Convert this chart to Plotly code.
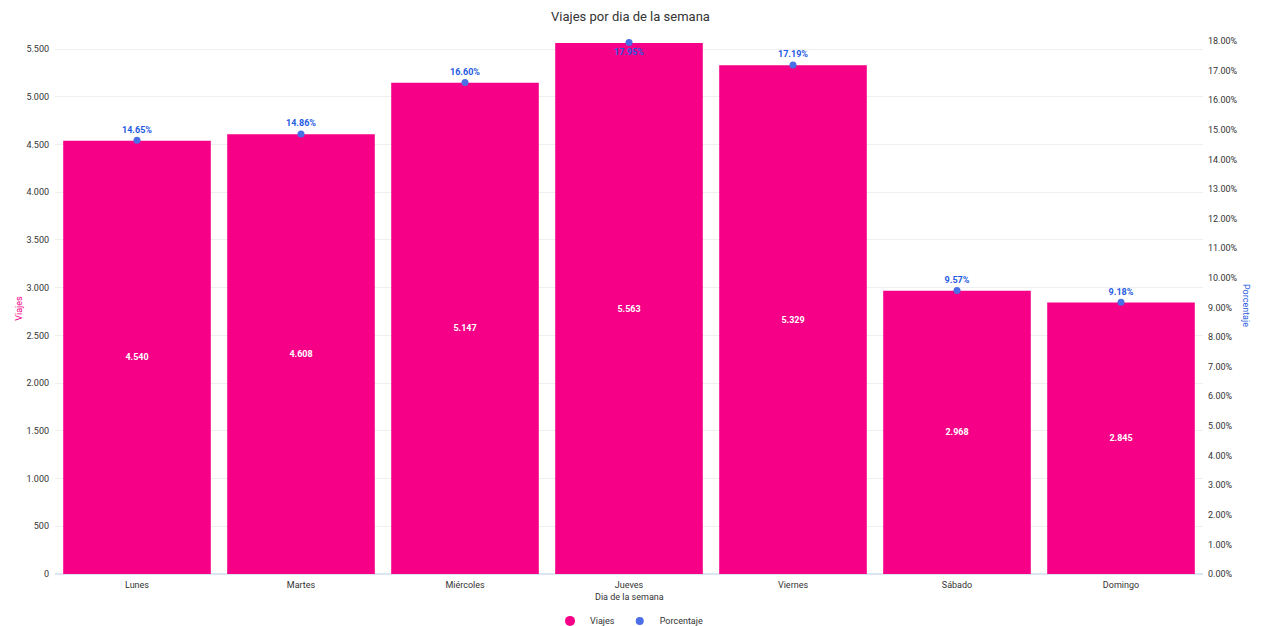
import plotly.graph_objects as go

# Viajes por día de la semana
dias = ["Lunes", "Martes", "Miércoles", "Jueves", "Viernes", "Sábado", "Domingo"]
viajes = [4540, 4608, 5147, 5563, 5329, 2968, 2845]
porcentaje = [14.65, 14.86, 16.60, 17.95, 17.19, 9.57, 9.18]

rosa = "#F50087"
azul = "#4A6EE6"
azul_texto = "#1F5BE0"


def miles(v):
    return f"{v:,}".replace(",", ".")


ticks_izq = list(range(0, 5501, 500))

fig = go.Figure()

fig.add_trace(go.Bar(
    x=dias, y=viajes, name="Viajes",
    marker=dict(color=rosa, line=dict(width=0)),
    text=[miles(v) for v in viajes],
    textposition="inside", insidetextanchor="middle",
    textfont=dict(color="white", size=9, family="Roboto", weight="bold"),
    showlegend=False,
))

pos_texto = ["bottom center" if p == max(porcentaje) else "top center" for p in porcentaje]
fig.add_trace(go.Scatter(
    x=dias, y=[p / 100 for p in porcentaje], name="Porcentaje", yaxis="y2",
    mode="markers+text",
    marker=dict(color=azul, size=7),
    text=[f"{p:.2f}%" for p in porcentaje],
    textposition=pos_texto,
    textfont=dict(color=azul_texto, size=9, family="Roboto", weight="bold"),
    cliponaxis=False,
    showlegend=False,
))

# leyenda con círculos
fig.add_trace(go.Scatter(x=[None], y=[None], mode="markers", name="Viajes",
                         marker=dict(color=rosa, size=10)))
fig.add_trace(go.Scatter(x=[None], y=[None], mode="markers", name="Porcentaje",
                         marker=dict(color=azul, size=8), yaxis="y2"))

fig.update_layout(
    width=1261, height=626,
    margin=dict(l=55, r=58, t=35, b=52, autoexpand=False),
    paper_bgcolor="white", plot_bgcolor="white",
    font=dict(family="Roboto", size=9, color="#333333"),
    title=dict(text="Viajes por dia de la semana", x=0.5, xanchor="center",
               y=0.973, yanchor="middle", font=dict(size=13, color="#333333")),
    bargap=0.1,
    xaxis=dict(showgrid=False, showline=False, ticks="", tickfont=dict(size=9),
               ticklabelstandoff=4, automargin=False),
    yaxis=dict(range=[0, 5647], tickvals=ticks_izq, ticktext=[miles(v) for v in ticks_izq],
               showgrid=True, gridcolor="#EFEFEF", zeroline=True, zerolinecolor="#DCE6F2",
               zerolinewidth=2, ticks="", tickfont=dict(size=9), ticklabelstandoff=5,
               automargin=False),
    yaxis2=dict(overlaying="y", side="right", range=[0, 0.182], dtick=0.01, tickformat=".2%",
                showgrid=False, zeroline=False, ticks="", tickfont=dict(size=9),
                ticklabelstandoff=4, automargin=False),
    legend=dict(orientation="h", x=0.5, xanchor="center", y=-0.087, yanchor="middle",
                font=dict(size=9), itemwidth=30),
)

# títulos de ejes
fig.add_annotation(text="Dia de la semana", xref="paper", yref="paper", x=0.5, y=-0.043,
                   yanchor="middle", showarrow=False, font=dict(size=9))
fig.add_annotation(text="Viajes", xref="paper", yref="paper", x=-0.0377, y=0.4935,
                   textangle=-90, showarrow=False, font=dict(color=rosa, size=9))
fig.add_annotation(text="Porcentaje", xref="paper", yref="paper", x=1.0436, y=0.499,
                   textangle=90, showarrow=False, font=dict(color=azul_texto, size=9))

fig.write_html("out.html", config={"displayModeBar": False},
               post_script="document.body.style.margin='0';")
